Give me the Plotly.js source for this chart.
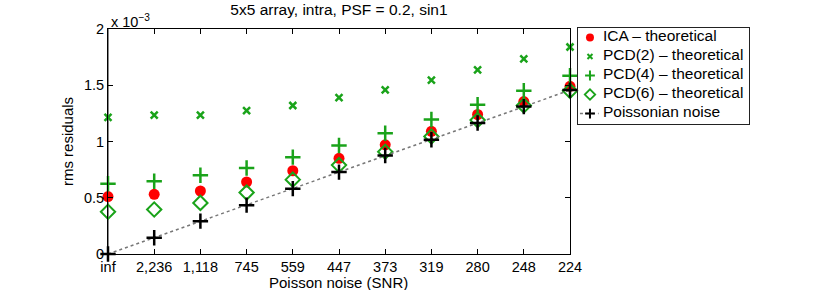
<!DOCTYPE html>
<html><head><meta charset="utf-8">
<script src="https://cdn.plot.ly/plotly-3.0.1.min.js"></script>
<style>body{margin:0;background:#fff}#c{width:830px;height:290px}</style>
</head><body><div id="c"></div>
<script>
// values in units of 1e-3
var snrLabels = ["inf","2,236","1,118","745","559","447","373","319","280","248","224"];
var ica  = [0.51,0.53,0.56,0.64,0.74,0.85,0.97,1.09,1.24,1.355,1.49];
var pcd2 = [1.215,1.235,1.235,1.274,1.32,1.39,1.458,1.546,1.637,1.735,1.84];
var pcd4 = [0.625,0.646,0.70,0.764,0.861,0.965,1.073,1.195,1.327,1.451,1.584];
var pcd6 = [0.375,0.395,0.454,0.546,0.661,0.79,0.909,1.044,1.19,1.32,1.45];
var poisson = [0,0.145,0.292,0.434,0.581,0.728,0.876,1.015,1.165,1.31,1.457];
var yTicks = [0,0.5,1,1.5,2];
var yTickText = ["0","0.5","1","1.5","2"];
var seriesNames = ["ICA \u2013 theoretical","PCD(2) \u2013 theoretical","PCD(4) \u2013 theoretical","PCD(6) \u2013 theoretical","Poissonian noise"];

var xs = snrLabels.map(function(_,i){return i;});
var green = '#1aa31a';
var styles = [
 {color:'#ff0000',size:11,symbol:'circle'},
 {color:green,size:7,symbol:'x-thin',line:{color:green,width:2.5}},
 {color:green,size:11,symbol:'cross-thin',line:{color:green,width:2.5}},
 {color:'rgba(0,0,0,0)',size:11,symbol:'diamond',line:{color:green,width:2}},
 {color:'#000',size:11,symbol:'cross-thin',line:{color:'#000',width:2.5}}
];
var legStyles = [
 {color:'#ff0000',size:8,symbol:'circle'},
 {color:green,size:5,symbol:'x-thin',line:{color:green,width:2}},
 {color:green,size:7,symbol:'cross-thin',line:{color:green,width:2}},
 {color:'rgba(0,0,0,0)',size:8,symbol:'diamond',line:{color:green,width:1.8}},
 {color:'#000',size:7,symbol:'cross-thin',line:{color:'#000',width:2}}
];
var dataSets = [ica,pcd2,pcd4,pcd6,poisson];
var traces = [];
dataSets.forEach(function(d,k){
  var t = {x:xs,y:d,mode:'markers',name:seriesNames[k],marker:styles[k],cliponaxis:false,showlegend:false};
  if(k===4){t.mode='lines+markers';t.line={color:'#777',width:1.5,dash:'dot'};}
  traces.push(t);
});
// custom legend drawn on its own small axes
var legX = [0,10], legY = [-0.05,5.1];
dataSets.forEach(function(d,k){
  if(k===4){
    traces.push({x:[0.17,1.25],y:[k+0.5,k+0.5],mode:'lines',xaxis:'x2',yaxis:'y2',showlegend:false,
      line:{color:'#777',width:1.5,dash:'dot'},cliponaxis:false});
  }
  traces.push({x:[0.75],y:[k+0.5],mode:'markers',xaxis:'x2',yaxis:'y2',showlegend:false,marker:legStyles[k],cliponaxis:false});
});
traces.push({x:seriesNames.map(function(){return 1.5;}),y:seriesNames.map(function(_,k){return k+0.5;}),
  mode:'text',text:seriesNames,textposition:'middle right',xaxis:'x2',yaxis:'y2',showlegend:false,
  textfont:{size:15.5,color:'#000'},cliponaxis:false});

var font = {family:'Liberation Sans, Arial, sans-serif',size:14.5,color:'#000'};
var layout = {
 width:830,height:290,
 margin:{l:108,r:0,t:24,b:36},
 paper_bgcolor:'#fff',plot_bgcolor:'#fff',
 font:font,showlegend:false,
 title:{text:'5x5 array, intra, PSF = 0.2, sin1',font:{size:15.5},x:0.3199,xanchor:'center',xref:'paper',y:0.985,yanchor:'top'},
 xaxis:{domain:[0,0.63989],range:[0,10],tickmode:'array',tickvals:xs,ticktext:snrLabels,ticks:'inside',ticklen:5,tickcolor:'#000',
   showline:true,linecolor:'#000',linewidth:1,mirror:'ticks',showgrid:false,zeroline:false,tickfont:{size:14.5}},
 yaxis:{domain:[0,0.97826],range:[0,2],tickmode:'array',tickvals:yTicks,ticktext:yTickText,ticks:'inside',ticklen:5,tickcolor:'#000',
   showline:true,linecolor:'#000',linewidth:1,mirror:'ticks',showgrid:false,zeroline:false,
   title:{text:'rms residuals',standoff:6,font:{size:15}},tickfont:{size:14.5}},
 xaxis2:{domain:[0.64479,0.89399],range:[-0.2,10.2],anchor:'y2',showline:false,
   showticklabels:false,ticks:'',showgrid:false,zeroline:false,fixedrange:true},
 yaxis2:{domain:[0.55261,0.99522],range:[5.2,-0.15],anchor:'x2',showline:false,
   showticklabels:false,ticks:'',showgrid:false,zeroline:false,fixedrange:true},
 shapes:[
  {type:'line',xref:'x',yref:'y',x0:0,x1:0,y0:0,y1:2,line:{color:'#888',width:2},layer:'below'}
 ],
 annotations:[
  {xref:'paper',yref:'paper',x:0,y:0.97826,xanchor:'left',yanchor:'bottom',showarrow:false,
   text:'x 10<sup>\u22123</sup>',font:{size:14.5},xshift:1,yshift:-3},
  {xref:'paper',yref:'paper',x:0.31994,y:0,xanchor:'center',yanchor:'top',showarrow:false,
   text:'Poisson noise (SNR)',font:{size:15},yshift:-18},
  // legend frame as an empty bordered annotation box
  {xref:'x2',yref:'y2',x:legX[0],y:legY[0],xanchor:'left',yanchor:'top',showarrow:false,text:' ',
   width:171,height:96,bordercolor:'#222',borderwidth:1,borderpad:0,bgcolor:'rgba(0,0,0,0)'}
 ]
};
Plotly.newPlot('c',traces,layout,{displayModeBar:false,staticPlot:true});
</script></body></html>
